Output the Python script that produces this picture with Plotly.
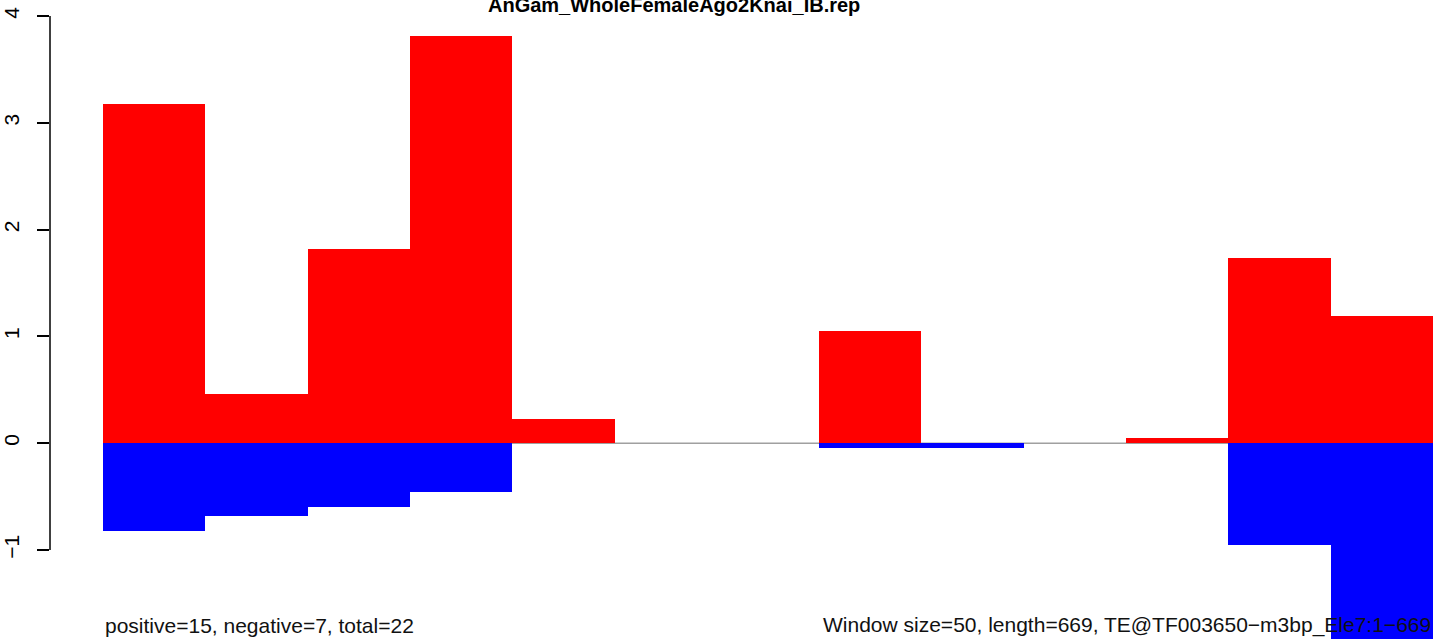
import plotly.graph_objects as go

# Window values (13 windows of 50 bp)
windows = list(range(13))
pos_values = [3.18, 0.458, 1.815, 3.817, 0.225, 0, 0, 1.048, 0, 0, 0.047, 1.73, 1.188]
neg_values = [-0.823, -0.68, -0.596, -0.455, 0, 0, 0, -0.044, -0.044, 0, 0, -0.951, -1.92]
y_ticks = [-1, 0, 1, 2, 3, 4]

title_text = "AnGam_WholeFemaleAgo2Knai_IB.rep"
left_note = "positive=15, negative=7, total=22"
right_note = "Window size=50, length=669, TE@TF003650\u2212m3bp_Ele7:1\u2212669"

FONT = "Liberation Sans, Arial, Helvetica, sans-serif"

fig = go.Figure()
fig.add_trace(go.Bar(x=windows, y=pos_values, width=1, marker=dict(color="#ff0000", line=dict(width=0)),
                     showlegend=False, hoverinfo="y"))
fig.add_trace(go.Bar(x=windows, y=neg_values, width=1, marker=dict(color="#0000ff", line=dict(width=0)),
                     showlegend=False, hoverinfo="y"))

# grey baseline under the bars
fig.add_shape(type="line", xref="x", yref="y", x0=windows[0] - 0.5, x1=windows[-1] + 0.5, y0=0, y1=0,
              line=dict(color="#a0a0a0", width=1.5), layer="below")
# R-style y axis line spanning only the tick range
fig.add_shape(type="line", xref="paper", yref="y", x0=0, x1=0, y0=y_ticks[0], y1=y_ticks[-1],
              line=dict(color="black", width=1.5))

fig.add_annotation(text=f"<b>{title_text}</b>", xref="paper", yref="paper", x=0.4475, y=1.0,
                   xanchor="center", yanchor="middle", showarrow=False,
                   font=dict(family=FONT, size=20, color="black"))
fig.add_annotation(text=left_note, xref="x", yref="paper", x=windows[0] - 0.5, y=0.022,
                   xanchor="left", yanchor="middle", showarrow=False,
                   font=dict(family=FONT, size=21, color="#111111"))
fig.add_annotation(text=right_note, xref="x", yref="paper", x=windows[-1] + 0.5, y=0.022,
                   xanchor="right", yanchor="middle", showarrow=False,
                   font=dict(family=FONT, size=21, color="#111111"))

fig.update_layout(
    width=1444, height=639,
    margin=dict(l=50, r=0, t=5, b=0, pad=0, autoexpand=False),
    barmode="overlay", bargap=0,
    plot_bgcolor="white", paper_bgcolor="white",
    font=dict(family=FONT, size=21, color="black"),
    xaxis=dict(range=[-1.018, 12.608], visible=False, showgrid=False, zeroline=False, automargin=False),
    yaxis=dict(range=[-1.834, 4.103], tickvals=y_ticks, ticktext=[str(v).replace("-", "\u2212") for v in y_ticks],
               tickangle=-90, ticks="outside", ticklen=12, tickwidth=1.5, tickcolor="black",
               showline=False, showgrid=False, zeroline=False, ticklabelstandoff=10, automargin=False,
               tickfont=dict(family=FONT, size=21, color="black")),
)

# the page body has a default 8px margin; drop it so the figure sits at the window corner
fig.write_html("out.html", config={"displayModeBar": False},
               post_script="document.body.style.margin='0';")
